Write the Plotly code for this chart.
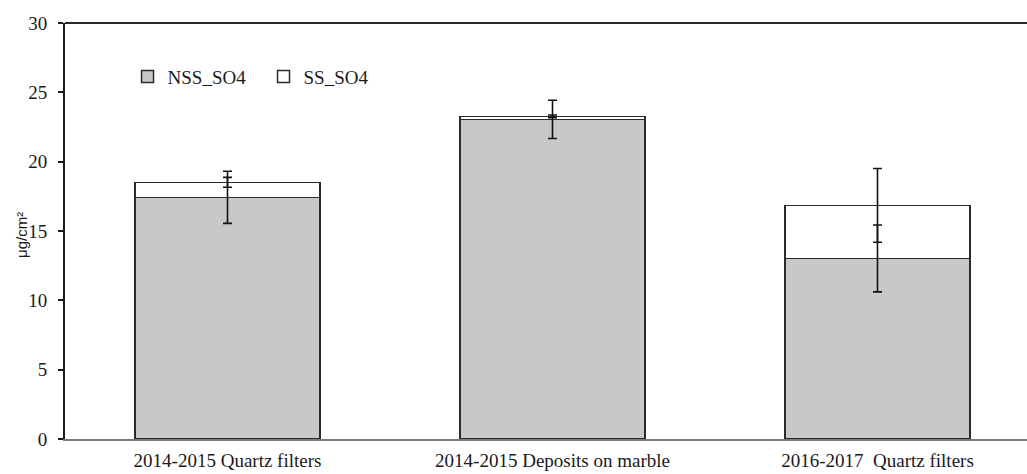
import numpy as np
import plotly.graph_objects as go

# Sulphate loadings per sampling campaign
categories = ["2014-2015 Quartz filters", "2014-2015 Deposits on marble", "2016-2017\u00a0 Quartz filters"]
nss_so4 = [17.43, 23.05, 13.02]
ss_so4 = [1.08, 0.22, 3.83]
nss_err = [1.88, 1.38, 2.41]
ss_err = [0.36, 0.10, 2.66]
y_ticks = [0, 5, 10, 15, 20, 25, 30]

serif = "Liberation Serif"
sans = "Liberation Sans"
bar_line = dict(color="#2a2a2a", width=1.5)

nss_top = np.array(nss_so4)
total_top = nss_top + np.array(ss_so4)

fig = go.Figure()
fig.add_trace(go.Bar(
    name="NSS_SO4", x=categories, y=nss_so4,
    marker=dict(color="#c8c8c8", line=bar_line),
    width=0.57,
))
fig.add_trace(go.Bar(
    name="SS_SO4", x=categories, y=ss_so4,
    marker=dict(color="#ffffff", line=bar_line),
    width=0.57,
))

# Error bars drawn above both stacked segments
err_style = dict(type="data", visible=True, color="#111111", thickness=1.6, width=4.5)
fig.add_trace(go.Scatter(
    x=categories, y=nss_top, mode="markers", marker=dict(opacity=0, size=1),
    error_y=dict(array=nss_err, **err_style), showlegend=False, hoverinfo="skip",
))
fig.add_trace(go.Scatter(
    x=categories, y=total_top, mode="markers", marker=dict(opacity=0, size=1),
    error_y=dict(array=ss_err, **err_style), showlegend=False, hoverinfo="skip",
))

fig.update_layout(
    width=1027, height=474,
    margin=dict(l=65, r=0, t=23, b=35),
    barmode="stack",
    plot_bgcolor="white", paper_bgcolor="white",
    font=dict(family=serif, size=19, color="#1a1a1a"),
    legend=dict(
        orientation="h", x=0.065, y=0.871, xanchor="left", yanchor="middle",
        font=dict(family=serif, size=19, color="#1a1a1a"),
        bgcolor="rgba(0,0,0,0)", entrywidth=91, entrywidthmode="pixels",
        traceorder="normal",
    ),
    xaxis=dict(
        range=[-0.5, 2.46], showline=True, linecolor="#7a7a7a", linewidth=2,
        ticks="", showgrid=False, zeroline=False,
        ticklabelposition="outside", ticklabelstandoff=3,
        tickfont=dict(family=serif, size=19, color="#1a1a1a"),
    ),
    yaxis=dict(
        range=[0, 30], tickvals=y_ticks, showline=True, linecolor="#1a1a1a", linewidth=2,
        ticks="outside", ticklen=5, tickwidth=1.5, tickcolor="#1a1a1a",
        showgrid=False, zeroline=False, ticklabelposition="outside", ticklabelstandoff=7,
        tickfont=dict(family=serif, size=19, color="#1a1a1a"),
    ),
    annotations=[dict(
        text="μg/cm²", textangle=-90, xref="paper", yref="paper",
        x=-0.046, y=0.49, xanchor="center", yanchor="middle", showarrow=False,
        font=dict(family=sans, size=15, color="#1a1a1a"),
    )],
    shapes=[dict(type="line", xref="paper", yref="paper", x0=0, x1=1, y0=1, y1=1,
                 line=dict(color="#2a2a2a", width=2))],
)

fig.write_html("out.html")
